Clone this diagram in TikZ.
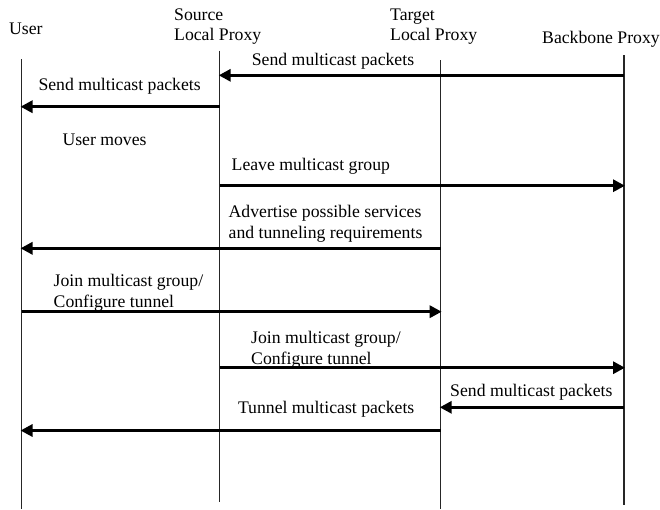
\documentclass[tikz,border=0pt]{standalone}
\usepackage{fontspec}
\setmainfont{Liberation Serif}
\usetikzlibrary{arrows.meta}

\tikzset{
  lifeline/.style={line width=1.1pt, black!85},
  msg/.style={line width=3.3pt, -{Triangle[length=12pt,width=12pt]}, shorten >=-1pt},
  lbl/.style={anchor=base west, inner sep=0pt, align=left,
              font=\fontsize{17.7}{21}\selectfont},
  head/.style={lbl, font=\fontsize{17.7}{20}\selectfont}
}

\begin{document}
\begin{tikzpicture}[x=1pt, y=-1pt]
  \useasboundingbox (0,0) rectangle (660,509);

  % participants (multi-line nodes are placed by the baseline of their last line)
  \node[head] (hUser)   at (9,34.3)    {User};
  \node[head] (hSource) at (174,40.7)  {Source\\Local Proxy};
  \node[head] (hTarget) at (390,40.7)  {Target\\Local Proxy};
  \node[head] (hBack)   at (542,43.3)  {Backbone Proxy};

  % lifelines
  \coordinate (uTop) at (21.5,59);   \coordinate (uBot) at (21.5,509);
  \coordinate (sTop) at (219.7,50.7); \coordinate (sBot) at (219.7,501.7);
  \coordinate (tTop) at (440.7,60);   \coordinate (tBot) at (440.7,509);
  \coordinate (bTop) at (624,55);     \coordinate (bBot) at (624,505);
  \draw[lifeline] (uTop) -- (uBot);
  \draw[lifeline] (sTop) -- (sBot);
  \draw[lifeline] (tTop) -- (tBot);
  \draw[lifeline] (bTop) -- (bBot);

  % message end points on the lifelines
  \coordinate (b1) at (624,75.3);   \coordinate (s1) at (219.7,75.3);
  \coordinate (s2) at (219.7,106.7); \coordinate (u2) at (21.5,106.7);
  \coordinate (s3) at (219.7,185.7); \coordinate (b3) at (624,185.7);
  \coordinate (t4) at (440.7,248.3); \coordinate (u4) at (21.5,248.3);
  \coordinate (u5) at (21.5,311.7);  \coordinate (t5) at (440.7,311.7);
  \coordinate (s6) at (219.7,367.7); \coordinate (b6) at (624,367.7);
  \coordinate (b7) at (624,407.3);   \coordinate (t7) at (440.7,407.3);
  \coordinate (t8) at (440.7,430.5); \coordinate (u8) at (21.5,430.5);

  % messages
  \draw[msg] (b1) -- (s1);
  \draw[msg] (s2) -- (u2);
  \draw[msg] (s3) -- (b3);
  \draw[msg] (t4) -- (u4);
  \draw[msg] (u5) -- (t5);
  \draw[msg] (s6) -- (b6);
  \draw[msg] (b7) -- (t7);
  \draw[msg] (t8) -- (u8);

  % labels
  \node[lbl] (l1) at (251.7,65.7)  {Send multicast packets};
  \node[lbl] (l2) at (38.3,90)     {Send multicast packets};
  \node[lbl] (l0) at (62.3,145)    {User moves};
  \node[lbl] (l3) at (231.5,170)   {Leave multicast group};
  \node[lbl] (l4) at (228.5,238.3) {Advertise possible services\\and tunneling requirements};
  \node[lbl] (l5) at (53.5,307.7)  {Join multicast group/\\Configure tunnel};
  \node[lbl] (l6) at (251,364)     {Join multicast group/\\Configure tunnel};
  \node[lbl] (l7) at (450,396.7)   {Send multicast packets};
  \node[lbl] (l8) at (237.8,413.3) {Tunnel multicast packets};
\end{tikzpicture}
\end{document}
